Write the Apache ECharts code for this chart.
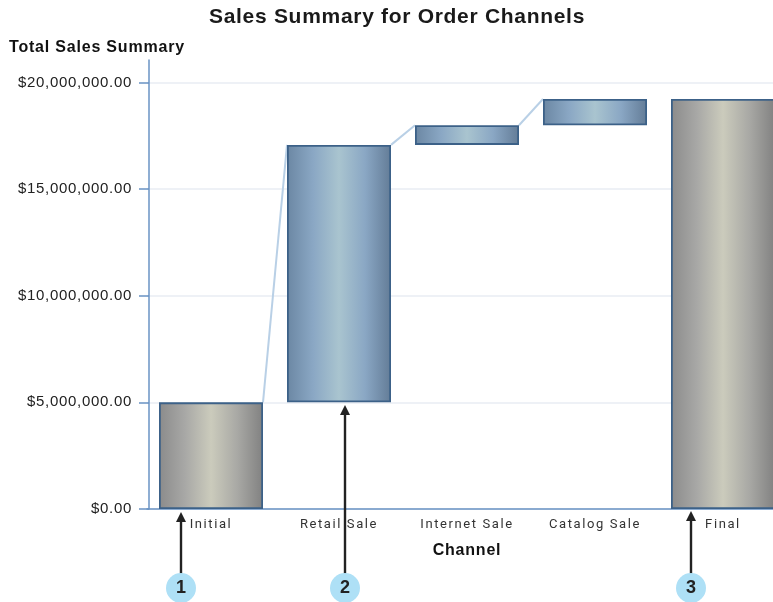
<!DOCTYPE html>
<html><head><meta charset="utf-8">
<style>html,body{margin:0;padding:0;background:#fff;overflow:hidden}#c{width:773px;height:602px}</style>
<script src="https://cdn.jsdelivr.net/npm/echarts@6/dist/echarts.min.js"></script>
</head><body><div id="c"></div>
<script>
const categories = ['Initial', 'Retail Sale', 'Internet Sale', 'Catalog Sale', 'Final'];
const baseValues = [0, 5000000, 17070000, 17990000, 0];
const barValues = [5000000, 12070000, 920000, 1230000, 19220000];
const barKinds = ['total', 'delta', 'delta', 'delta', 'total'];
const yTicks = [0, 5000000, 10000000, 15000000, 20000000];
const callouts = [['1', 181, 512], ['2', 345, 405], ['3', 691, 511]];

// The reference's text is letter-spaced; canvas text has a property for that.
const nativeFillText = CanvasRenderingContext2D.prototype.fillText;
const spacingFor = font => font.includes('Roboto') ? '1.6px'
  : font.includes('21px') ? '0.7px'
  : font.includes('16px') ? '0.8px'
  : font.includes('15px') ? '0.7px' : '0px';
CanvasRenderingContext2D.prototype.fillText = function (...args) {
  this.letterSpacing = spacingFor(this.font);
  return nativeFillText.apply(this, args);
};

const BAR_W = 104;
const grad = stops => new echarts.graphic.LinearGradient(0, 0, 1, 0,
  stops.map((c, i) => ({offset: i / (stops.length - 1), color: c})));
const fills = {
  total: () => grad(['#8b8b8b', '#a8a8a6', '#cbcbbc', '#a9a9a5', '#818181']),
  delta: () => grad(['#6b87a3', '#8aa7c4', '#a9c4cf', '#8aa7c4', '#637c97'])
};
const tops = barValues.map((v, i) => v + baseValues[i]);
const links = [[0, 1], [1, 2], [2, 3]].map(([a, b]) => [a, tops[a], b, tops[b]]);
const money = v => '$' + v.toLocaleString('en-US', {minimumFractionDigits: 2, maximumFractionDigits: 2});

const graphics = [];
callouts.forEach(([label, x, tip]) => {
  graphics.push(
    {type: 'line', z: 50, shape: {x1: x, y1: tip + 8, x2: x, y2: 576}, style: {stroke: '#222', lineWidth: 2.4}},
    {type: 'polygon', z: 50, shape: {points: [[x, tip], [x - 5, tip + 10], [x + 5, tip + 10]]}, style: {fill: '#222'}},
    {type: 'circle', z: 51, shape: {cx: x, cy: 588, r: 15}, style: {fill: '#aee0f6'}},
    {type: 'text', z: 52, x: x, y: 588, style: {text: label, fill: '#222', font: 'bold 18px "Liberation Sans"', align: 'center', verticalAlign: 'middle'}}
  );
});

const chart = echarts.init(document.getElementById('c'), null, {renderer: 'canvas'});
chart.setOption({
  animation: false,
  backgroundColor: '#fff',
  textStyle: {fontFamily: '"Liberation Sans"'},
  title: [
    {text: 'Sales Summary for Order Channels', left: 397, top: 7, textAlign: 'center', padding: 0,
     textStyle: {fontSize: 21, fontWeight: 'bold', color: '#1a1a1a', fontFamily: '"Liberation Sans"'}},
    {text: 'Total Sales Summary', left: 9, top: 40, padding: 0,
     textStyle: {fontSize: 16, fontWeight: 'bold', color: '#111', fontFamily: '"Liberation Sans"'}}
  ],
  grid: {left: 147, top: 60, width: 640, height: 449, containLabel: false, outerBoundsMode: 'none'},
  xAxis: {
    type: 'category', data: categories,
    axisLine: {lineStyle: {color: '#6a93c4', width: 1.5}},
    axisTick: {show: false},
    axisLabel: {margin: 9, fontSize: 13, color: '#333', fontFamily: 'Roboto'},
    name: 'Channel', nameLocation: 'middle', nameGap: 34,
    nameTextStyle: {fontSize: 16, fontWeight: 'bold', color: '#111'}
  },
  yAxis: {
    type: 'value', min: 0, max: 21050000, offset: -2,
    axisLine: {show: true, onZero: false, lineStyle: {color: '#6a93c4', width: 1.5}},
    axisTick: {show: true, length: 10, customValues: yTicks, lineStyle: {color: '#6a93c4', width: 1.5}},
    axisLabel: {margin: 17, fontSize: 15, color: '#222', customValues: yTicks, formatter: money},
    splitLine: {show: true, lineStyle: {color: '#e9edf3', width: 1.5}}
  },
  series: [
    {type: 'custom', z: 1, silent: true, data: links,
     renderItem: (p, api) => {
       const a = api.coord([api.value(0), api.value(1)]);
       const b = api.coord([api.value(2), api.value(3)]);
       return {type: 'line', shape: {x1: a[0] + BAR_W / 2, y1: a[1], x2: b[0] - BAR_W / 2, y2: b[1]},
               style: {stroke: '#b9d0e6', lineWidth: 2}};
     },
     encode: {x: [0, 2], y: [1, 3]}},
    {type: 'bar', stack: 'w', z: 2, barWidth: BAR_W, silent: true,
     itemStyle: {color: 'transparent'}, data: baseValues},
    {type: 'bar', stack: 'w', z: 3, barWidth: BAR_W, silent: true,
     data: barValues.map((v, i) => ({value: v,
       itemStyle: {color: fills[barKinds[i]](), borderColor: '#3c6188', borderWidth: 1.8}}))}
  ],
  graphic: graphics
});
</script></body></html>
